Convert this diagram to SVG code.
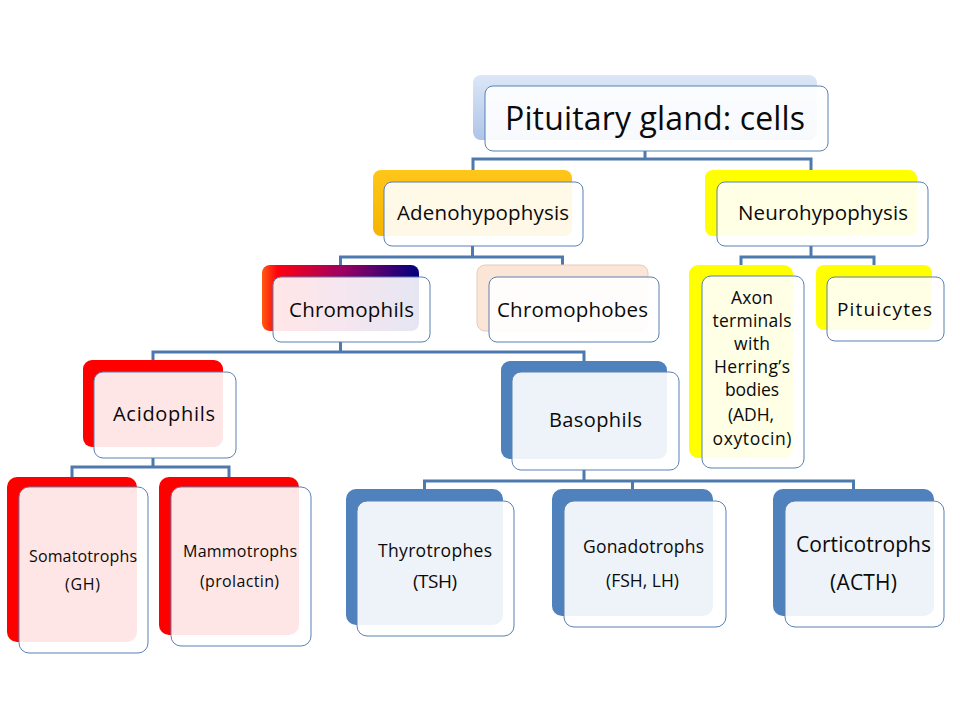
<svg xmlns="http://www.w3.org/2000/svg" width="960" height="720" viewBox="0 0 960 720">
  <defs>
    <linearGradient id="gTop" x1="0" y1="0" x2="0" y2="1">
      <stop offset="0" stop-color="#DCE7F7"/>
      <stop offset="1" stop-color="#AEC4E8"/>
    </linearGradient>
    <linearGradient id="gGold" x1="0" y1="0" x2="0" y2="1">
      <stop offset="0" stop-color="#FFC61A"/>
      <stop offset="1" stop-color="#F6B400"/>
    </linearGradient>
    <linearGradient id="gChrom" x1="0" y1="0" x2="1" y2="0">
      <stop offset="0" stop-color="#FF5A10"/>
      <stop offset="0.1" stop-color="#FF0010"/>
      <stop offset="0.5" stop-color="#A00060"/>
      <stop offset="1" stop-color="#000080"/>
    </linearGradient>
  </defs>
  <style>
    .back { stroke: none; }
    .front { fill: #FFFFFF; fill-opacity: 0.9; stroke: #5B80B2; stroke-width: 1; }
    .blue { fill: #4F81BD; }
    .red { fill: #FF0000; }
    .yellow { fill: #FFFF00; }
    .peach { fill: #FBE5D6; stroke: #E6CDBC; stroke-width: 1; }
    .t { font-family: "Open Sans", "Liberation Sans", sans-serif; fill: #0A0A0A; text-anchor: middle; }
    .conn { fill: none; stroke: #4D79AE; stroke-width: 3; }
  </style>
  <rect width="960" height="720" fill="#FFFFFF"/>

  <g id="connectors">
    <path class="conn" d="M645,151 V159 M473,170 V159 H811 V170"/>
    <path class="conn" d="M472.5,246 V257 M340.5,265 V257 H562.5 V265"/>
    <path class="conn" d="M811,246 V257 M741,265 V257 H874 V265"/>
    <path class="conn" d="M340.5,342 V352 M153,360 V352 H584 V361"/>
    <path class="conn" d="M153,458 V467 M72,477 V467 H229 V477"/>
    <path class="conn" d="M584,470 V481 M424.5,489 V481 H853.5 V489 M632.5,481 V489"/>
  </g>

  <g id="pituitary">
    <rect class="back" x="473" y="75" width="344" height="65" rx="8" fill="url(#gTop)"/>
    <rect class="front" x="485" y="86" width="343" height="65" rx="8"/>
    <text class="t" x="655" y="130" font-size="32" textLength="300">Pituitary gland: cells</text>
  </g>

  <g id="adenohypophysis">
    <rect class="back" x="373" y="170" width="199" height="66" rx="8" fill="url(#gGold)"/>
    <rect class="front" x="384" y="182" width="199" height="64" rx="8"/>
    <text class="t" x="483" y="220" font-size="20.5" textLength="172">Adenohypophysis</text>
  </g>

  <g id="neurohypophysis">
    <rect class="back yellow" x="705" y="170" width="212" height="66" rx="8"/>
    <rect class="front" x="717" y="182" width="211" height="64" rx="8"/>
    <text class="t" x="823" y="220" font-size="20.5" textLength="170">Neurohypophysis</text>
  </g>

  <g id="chromophils">
    <rect class="back" x="262" y="265" width="157" height="66" rx="8" fill="url(#gChrom)"/>
    <rect class="front" x="273" y="277" width="157" height="65" rx="8"/>
    <text class="t" x="351.5" y="317" font-size="20.5" textLength="125">Chromophils</text>
  </g>

  <g id="chromophobes">
    <rect class="back peach" x="477" y="265" width="171" height="66" rx="8"/>
    <rect class="front" x="489" y="277" width="170" height="65" rx="8"/>
    <text class="t" x="572.5" y="317" font-size="20.5" textLength="151">Chromophobes</text>
  </g>

  <g id="axon-terminals">
    <rect class="back yellow" x="689" y="265" width="104" height="193" rx="9"/>
    <rect class="front" x="702" y="276" width="102" height="192" rx="9"/>
    <text class="t" x="752" y="304" font-size="17.5" textLength="42">Axon</text>
    <text class="t" x="752" y="327" font-size="17.5" textLength="79">terminals</text>
    <text class="t" x="752" y="350" font-size="17.5" textLength="36">with</text>
    <text class="t" x="752" y="373" font-size="17.5" textLength="76">Herring’s</text>
    <text class="t" x="752" y="396" font-size="17.5" textLength="54">bodies</text>
    <text class="t" x="751" y="421" font-size="17.5" textLength="46">(ADH,</text>
    <text class="t" x="752" y="445" font-size="17.5" textLength="79">oxytocin)</text>
  </g>

  <g id="pituicytes">
    <rect class="back yellow" x="816" y="265" width="116" height="65" rx="8"/>
    <rect class="front" x="827" y="277" width="117" height="64" rx="8"/>
    <text class="t" x="884.5" y="316" font-size="19" textLength="95">Pituicytes</text>
  </g>

  <g id="acidophils">
    <rect class="back red" x="83" y="360" width="140" height="87" rx="9"/>
    <rect class="front" x="94" y="372" width="142" height="86" rx="9"/>
    <text class="t" x="164" y="421" font-size="20" textLength="102">Acidophils</text>
  </g>

  <g id="basophils">
    <rect class="back blue" x="501" y="361" width="166" height="98" rx="9"/>
    <rect class="front" x="512" y="372" width="167" height="98" rx="9"/>
    <text class="t" x="595.5" y="427" font-size="20" textLength="93">Basophils</text>
  </g>

  <g id="somatotrophs">
    <rect class="back red" x="7" y="477" width="130" height="165" rx="10"/>
    <rect class="front" x="19" y="487" width="129" height="166" rx="10"/>
    <text class="t" x="83" y="562" font-size="16" textLength="108">Somatotrophs</text>
    <text class="t" x="82.5" y="590" font-size="16" textLength="35">(GH)</text>
  </g>

  <g id="mammotrophs">
    <rect class="back red" x="159" y="477" width="140" height="158" rx="10"/>
    <rect class="front" x="171" y="487" width="140" height="159" rx="10"/>
    <text class="t" x="240" y="557" font-size="16" textLength="114">Mammotrophs</text>
    <text class="t" x="239.5" y="587" font-size="16" textLength="79">(prolactin)</text>
  </g>

  <g id="thyrotrophes">
    <rect class="back blue" x="346" y="489" width="157" height="136" rx="10"/>
    <rect class="front" x="357" y="501" width="157" height="135" rx="10"/>
    <text class="t" x="435" y="557" font-size="17.5" textLength="114">Thyrotrophes</text>
    <text class="t" x="435" y="588" font-size="19" textLength="44">(TSH)</text>
  </g>

  <g id="gonadotrophs">
    <rect class="back blue" x="552" y="489" width="161" height="127" rx="10"/>
    <rect class="front" x="564" y="501" width="162" height="126" rx="10"/>
    <text class="t" x="643.5" y="553" font-size="17.5" textLength="121">Gonadotrophs</text>
    <text class="t" x="642.5" y="587" font-size="17.5" textLength="73">(FSH, LH)</text>
  </g>

  <g id="corticotrophs">
    <rect class="back blue" x="773" y="489" width="161" height="127" rx="10"/>
    <rect class="front" x="785" y="501" width="159" height="126" rx="10"/>
    <text class="t" x="863.5" y="552" font-size="21" textLength="135">Corticotrophs</text>
    <text class="t" x="863.5" y="590" font-size="21" textLength="67">(ACTH)</text>
  </g>
</svg>
